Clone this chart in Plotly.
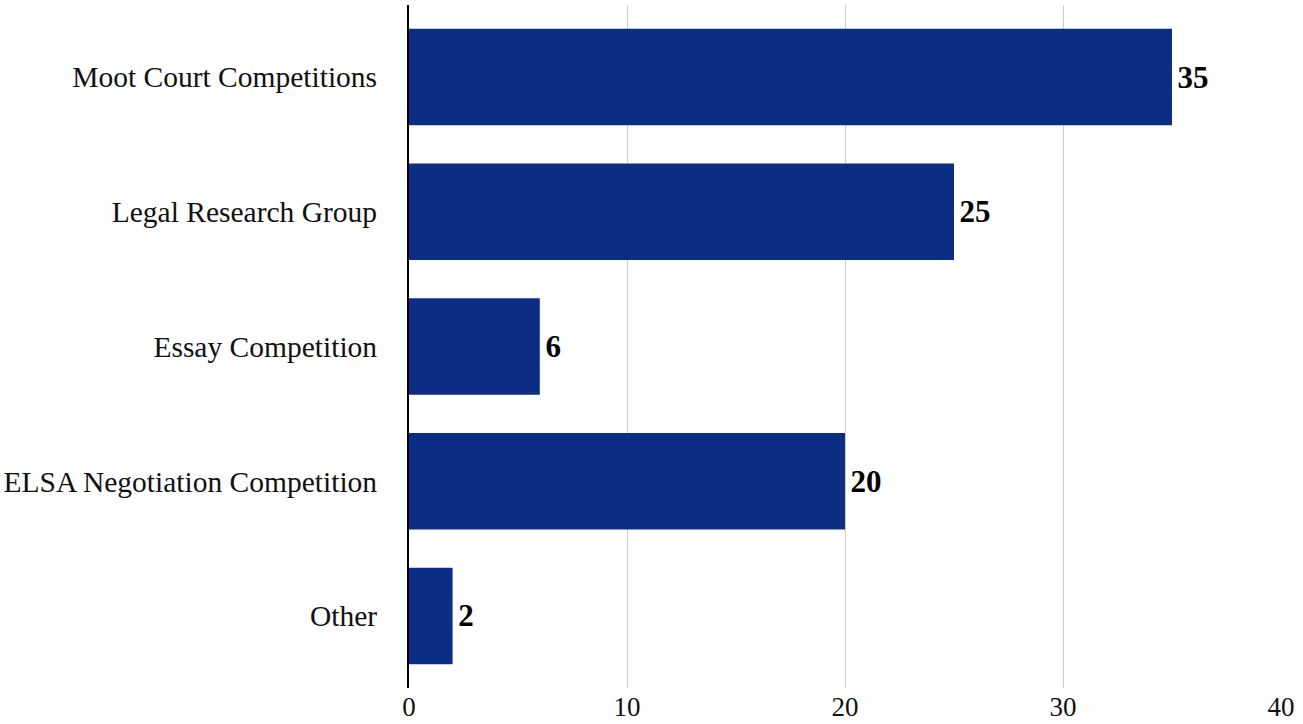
import plotly.graph_objects as go

categories = ["Moot Court Competitions", "Legal Research Group", "Essay Competition",
              "ELSA Negotiation Competition", "Other"]
values = [35, 25, 6, 20, 2]
x_ticks = [0, 10, 20, 30, 40]

fig = go.Figure(go.Bar(
    x=values, y=categories, orientation="h",
    marker=dict(color="#0b2e84", line=dict(width=0)),
    text=[f"<b>\u200a{v}</b>" for v in values],
    textposition="outside",
    textfont=dict(family="Liberation Serif", size=31, color="#000000"),
    cliponaxis=False,
))

fig.update_layout(
    width=1303, height=724,
    margin=dict(l=409, r=22, t=5, b=36, autoexpand=False),
    plot_bgcolor="white", paper_bgcolor="white",
    bargap=0.284,
    showlegend=False,
    font=dict(family="Liberation Serif", size=27, color="#111111"),
    xaxis=dict(range=[0, 40], tickvals=x_ticks, showgrid=True, gridcolor="#cccccc",
               gridwidth=1, zeroline=False, showline=False, ticks="",
               tickfont=dict(size=27), ticklabelstandoff=0, automargin=False),
    yaxis=dict(categoryorder="array", categoryarray=categories,
               range=[4.535, -0.535], showline=True, linecolor="#000000", linewidth=2,
               ticks="", showgrid=False, tickfont=dict(size=29.5), ticklabelstandoff=24,
               automargin=False),
)

fig.write_html("out.html", post_script="document.body.style.margin='0';",
               config={"displayModeBar": False})
